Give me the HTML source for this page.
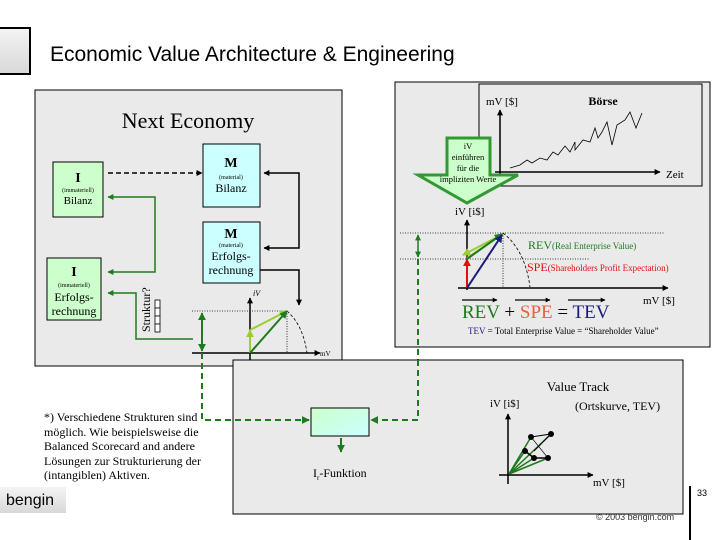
<!DOCTYPE html>
<html><head><meta charset="utf-8"><style>
body{margin:0;background:#fff;width:720px;height:540px;overflow:hidden}
svg{display:block}
text{font-family:"Liberation Serif",serif}
</style></head><body>
<svg width="720" height="540" viewBox="0 0 720 540" xmlns="http://www.w3.org/2000/svg">
<defs>
<marker id="ab" viewBox="0 0 10 10" refX="9" refY="5" markerWidth="4" markerHeight="4" orient="auto-start-reverse"><path d="M0,0L10,5L0,10z" fill="#000"/></marker>
<marker id="ag" viewBox="0 0 10 10" refX="9" refY="5" markerWidth="4" markerHeight="4" orient="auto-start-reverse"><path d="M0,0L10,5L0,10z" fill="#1e7a1e"/></marker>
<marker id="alg" viewBox="0 0 10 10" refX="9" refY="5" markerWidth="4" markerHeight="4" orient="auto"><path d="M0,0L10,5L0,10z" fill="#9acd32"/></marker>
<marker id="ar" viewBox="0 0 10 10" refX="9" refY="5" markerWidth="4" markerHeight="4" orient="auto"><path d="M0,0L10,5L0,10z" fill="#e01010"/></marker>
<marker id="abl" viewBox="0 0 10 10" refX="9" refY="5" markerWidth="4" markerHeight="4" orient="auto"><path d="M0,0L10,5L0,10z" fill="#1a1a80"/></marker>
<linearGradient id="gb" x1="0" y1="0" x2="0" y2="1"><stop offset="0" stop-color="#f4f4f4"/><stop offset="1" stop-color="#d8d8d8"/></linearGradient>
<linearGradient id="gi" x1="0" y1="0" x2="1" y2="1"><stop offset="0" stop-color="#ccffcc"/><stop offset="1" stop-color="#ccffff"/></linearGradient>
</defs>
<rect x="-2" y="28" width="32" height="46" fill="url(#gb)" stroke="#000" stroke-width="2"/>
<text x="50" y="61" font-size="21" style="font-family:'Liberation Sans',sans-serif">Economic Value Architecture &amp; Engineering</text>

<rect x="35" y="90" width="307" height="276" fill="#eaeaea" stroke="#000"/>
<text x="188" y="128" font-size="22" text-anchor="middle">Next Economy</text>
<rect x="203" y="144" width="57" height="63" fill="#ccffff" stroke="#000"/>
<text x="231" y="167" font-size="14" font-weight="bold" text-anchor="middle">M</text>
<text x="231" y="179" font-size="6" text-anchor="middle">(material)</text>
<text x="231" y="192" font-size="12" text-anchor="middle">Bilanz</text>
<rect x="53" y="162" width="50" height="55" fill="#ccffcc" stroke="#000"/>
<text x="78" y="182" font-size="14" font-weight="bold" text-anchor="middle">I</text>
<text x="78" y="192" font-size="6" text-anchor="middle">(immateriell)</text>
<text x="78" y="204" font-size="11" text-anchor="middle">Bilanz</text>
<rect x="203" y="222" width="57" height="61" fill="#ccffff" stroke="#000"/>
<text x="231" y="238" font-size="14" font-weight="bold" text-anchor="middle">M</text>
<text x="231" y="247" font-size="6" text-anchor="middle">(material)</text>
<text x="231" y="260" font-size="12" text-anchor="middle">Erfolgs-</text>
<text x="231" y="274" font-size="12" text-anchor="middle">rechnung</text>
<rect x="47" y="258" width="54" height="62" fill="#ccffcc" stroke="#000"/>
<text x="74" y="276" font-size="14" font-weight="bold" text-anchor="middle">I</text>
<text x="74" y="287" font-size="6" text-anchor="middle">(immateriell)</text>
<text x="74" y="301" font-size="12" text-anchor="middle">Erfolgs-</text>
<text x="74" y="315" font-size="12" text-anchor="middle">rechnung</text>
<line x1="108" y1="173" x2="202" y2="173" stroke="#000" stroke-width="1.5" stroke-dasharray="5,3" marker-end="url(#ab)"/>
<polyline points="264,173 299,173 299,248 264,248" fill="none" stroke="#000" stroke-width="1.5" marker-start="url(#ab)" marker-end="url(#ab)"/>
<polyline points="260,270 299,270 299,305" fill="none" stroke="#000" stroke-width="1.5" marker-end="url(#ab)"/>
<polyline points="108,197 155,197 155,272 108,272" fill="none" stroke="#1e7a1e" stroke-width="1.5" marker-start="url(#ag)" marker-end="url(#ag)"/>
<polyline points="193,339 136,339 136,293 108,293" fill="none" stroke="#1e7a1e" stroke-width="1.5" marker-end="url(#ag)"/>
<text x="0" y="0" font-size="12" transform="translate(150,332) rotate(-90)">Struktur?</text>
<g fill="#fff" stroke="#000" stroke-width="0.8"><rect x="155" y="300" width="5" height="8"/><rect x="155" y="308" width="5" height="8"/><rect x="155" y="316" width="5" height="8"/><rect x="155" y="324" width="5" height="8"/></g>
<line x1="192" y1="311" x2="287" y2="311" stroke="#000" stroke-width="0.8" stroke-dasharray="1,1.5"/>
<line x1="287" y1="311" x2="287" y2="353" stroke="#000" stroke-width="0.8" stroke-dasharray="1,1.5"/>
<path d="M287,311 Q303,325 307,353" fill="none" stroke="#000" stroke-width="0.8" stroke-dasharray="3,2"/>
<line x1="192" y1="353" x2="320" y2="353" stroke="#000" stroke-width="1.5" marker-end="url(#ab)"/>
<line x1="250" y1="362" x2="250" y2="298" stroke="#000" stroke-width="1.5" marker-end="url(#ab)"/>
<text x="253" y="296" font-size="8" font-style="italic">iV</text>
<text x="320" y="356" font-size="7">mV</text>
<line x1="250" y1="353" x2="250" y2="330" stroke="#9acd32" stroke-width="2" marker-end="url(#alg)"/>
<line x1="250" y1="330" x2="287" y2="311" stroke="#9acd32" stroke-width="2" marker-end="url(#alg)"/>
<line x1="250" y1="353" x2="287" y2="311" stroke="#1e7a1e" stroke-width="2" marker-end="url(#ag)"/>
<line x1="202" y1="313" x2="202" y2="351" stroke="#1e7a1e" stroke-width="2" marker-start="url(#ag)" marker-end="url(#ag)"/>

<rect x="395" y="82" width="315" height="265" fill="#eaeaea" stroke="#000"/>
<rect x="479" y="84" width="223" height="102" fill="#eaeaea" stroke="#000"/>
<text x="486" y="105" font-size="11">mV [$]</text>
<text x="603" y="105" font-size="12" font-weight="bold" text-anchor="middle">Börse</text>
<line x1="500" y1="183" x2="500" y2="110" stroke="#000" stroke-width="1.5" marker-end="url(#ab)"/>
<line x1="495" y1="172" x2="660" y2="172" stroke="#000" stroke-width="1.5" marker-end="url(#ab)"/>
<text x="666" y="178" font-size="11">Zeit</text>
<polyline points="510,168 520,165 527,160 532,163 540,158 547,160 553,152 558,155 565,146 570,152 575,142 575,150 583,140 590,142 595,128 598,138 602,132 607,122 612,145 617,125 625,120 630,112 636,128 642,113" fill="none" stroke="#000" stroke-width="0.8"/>
<path d="M447,138 L490,138 L490,175 L518,175 L467,203 L418,175 L447,175 Z" fill="#ccffcc" stroke="#339933" stroke-width="3"/>
<g font-size="8.5" text-anchor="middle"><text x="468" y="149">iV</text><text x="468" y="160">einführen</text><text x="468" y="171">für die</text><text x="468" y="182">impliziten Werte</text></g>
<text x="455" y="215" font-size="11">iV [i$]</text>
<line x1="400" y1="233" x2="665" y2="233" stroke="#000" stroke-width="0.8" stroke-dasharray="1,1.5"/>
<line x1="400" y1="259" x2="590" y2="259" stroke="#000" stroke-width="0.8" stroke-dasharray="1,1.5"/>
<line x1="503" y1="233" x2="503" y2="288" stroke="#000" stroke-width="0.8" stroke-dasharray="1,1.5"/>
<path d="M503,233 Q525,250 530,287" fill="none" stroke="#000" stroke-width="0.8" stroke-dasharray="3,2"/>
<line x1="458" y1="288" x2="668" y2="288" stroke="#000" stroke-width="1.5" marker-end="url(#ab)"/>
<line x1="467" y1="290" x2="467" y2="220" stroke="#000" stroke-width="1.5" marker-end="url(#ab)"/>
<line x1="418" y1="235" x2="418" y2="257" stroke="#1e7a1e" stroke-width="1.5" marker-start="url(#ag)" marker-end="url(#ag)"/>
<line x1="467" y1="288" x2="467" y2="259" stroke="#e01010" stroke-width="2" marker-end="url(#ar)"/>
<line x1="467" y1="258" x2="503" y2="234" stroke="#9acd32" stroke-width="2"/>
<line x1="503" y1="234" x2="463" y2="255" stroke="#9acd32" stroke-width="2" marker-end="url(#alg)"/>
<line x1="467" y1="259" x2="502" y2="234" stroke="#1e7a1e" stroke-width="2" marker-end="url(#ag)"/>
<line x1="467" y1="288" x2="502" y2="235" stroke="#1a1a80" stroke-width="2" marker-end="url(#abl)"/>
<text x="528" y="249" font-size="12" fill="#1e7a1e">REV<tspan font-size="9">(Real Enterprise Value)</tspan></text>
<text x="527" y="271" font-size="12" fill="#e01010">SPE<tspan font-size="9">(Shareholders Profit Expectation)</tspan></text>
<text x="643" y="304" font-size="11">mV [$]</text>
<line x1="462" y1="300" x2="497" y2="300" stroke="#000" stroke-width="1.2" marker-end="url(#ab)"/>
<line x1="515" y1="300" x2="550" y2="300" stroke="#000" stroke-width="1.2" marker-end="url(#ab)"/>
<line x1="568" y1="300" x2="605" y2="300" stroke="#000" stroke-width="1.2" marker-end="url(#ab)"/>
<text x="462" y="318" font-size="19"><tspan fill="#1e7a1e">REV</tspan> + <tspan fill="#e8603c">SPE</tspan> = <tspan fill="#1a1a80">TEV</tspan></text>
<text x="468" y="334" font-size="9"><tspan fill="#1a1a80">TEV</tspan> = Total Enterprise Value = “Shareholder Value”</text>

<polyline points="418,259 418,420 371,420" fill="none" stroke="#1e7a1e" stroke-width="2" stroke-dasharray="6,4" marker-end="url(#ag)"/>

<text x="596" y="520" font-size="9" style="font-family:'Liberation Sans',sans-serif" fill="#333">© 2003 bengin.com</text>
<rect x="233" y="360" width="450" height="154" fill="#eaeaea" stroke="#000"/>
<polyline points="418,360 418,420 371,420" fill="none" stroke="#1e7a1e" stroke-width="2" stroke-dasharray="6,4" marker-end="url(#ag)"/>
<polyline points="202,353 202,420 309,420" fill="none" stroke="#1e7a1e" stroke-width="2" stroke-dasharray="6,4" marker-end="url(#ag)"/>
<rect x="311" y="408" width="58" height="28" fill="url(#gi)" stroke="#000"/>
<line x1="341" y1="438" x2="341" y2="452" stroke="#1e7a1e" stroke-width="2" marker-end="url(#ag)"/>
<text x="313" y="477" font-size="12">I<tspan font-size="7" dy="3">r</tspan><tspan dy="-3">-Funktion</tspan></text>
<text x="578" y="391" font-size="13" text-anchor="middle">Value Track</text>
<text x="575" y="410" font-size="12">(Ortskurve, TEV)</text>
<text x="490" y="407" font-size="11">iV [i$]</text>
<line x1="508" y1="484" x2="508" y2="414" stroke="#000" stroke-width="1.5" marker-end="url(#ab)"/>
<line x1="499" y1="475" x2="593" y2="475" stroke="#000" stroke-width="1.5" marker-end="url(#ab)"/>
<text x="593" y="486" font-size="11">mV [$]</text>
<g stroke="#1e7a1e" stroke-width="1.5"><line x1="509" y1="474" x2="531" y2="437"/><line x1="509" y1="474" x2="551" y2="434"/><line x1="509" y1="474" x2="525" y2="451"/><line x1="509" y1="474" x2="534" y2="458"/><line x1="509" y1="474" x2="548" y2="458"/></g>
<polyline points="531,437 551,434 534,451" fill="none" stroke="#000" stroke-width="1"/>
<polyline points="525,451 534,458 548,458" fill="none" stroke="#000" stroke-width="1.5"/>
<line x1="531" y1="437" x2="548" y2="458" stroke="#000" stroke-width="0.6"/>
<g fill="#000"><circle cx="531" cy="437" r="3"/><circle cx="551" cy="434" r="3"/><circle cx="525" cy="451" r="3"/><circle cx="534" cy="458" r="3"/><circle cx="548" cy="458" r="3"/></g>
<line x1="690" y1="486" x2="690" y2="540" stroke="#000" stroke-width="2"/>
<text x="697" y="496" font-size="9" style="font-family:'Liberation Sans',sans-serif">33</text>

<g font-size="12"><text x="44" y="421">*) Verschiedene Strukturen sind</text><text x="44" y="436">möglich. Wie beispielsweise die</text><text x="44" y="450">Balanced Scorecard and andere</text><text x="44" y="465">Lösungen zur Strukturierung der</text><text x="44" y="479">(intangiblen) Aktiven.</text></g>
<rect x="0" y="487" width="66" height="26" fill="url(#gb)"/>
<text x="6" y="505" font-size="16" style="font-family:'Liberation Sans',sans-serif">bengin</text>
</svg>
</body></html>
